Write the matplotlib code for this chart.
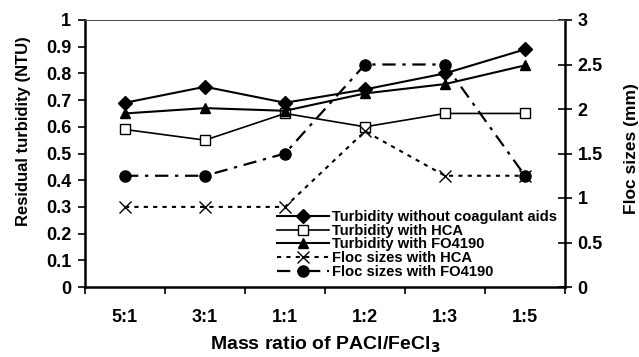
import matplotlib.pyplot as plt
import numpy as np

plt.rcParams['font.family'] = ['Liberation Sans', 'DejaVu Sans']
plt.rcParams['font.weight'] = 'bold'

ratios = ["5:1", "3:1", "1:1", "1:2", "1:3", "1:5"]
turb_none = [0.69, 0.75, 0.69, 0.74, 0.80, 0.89]
turb_hca = [0.59, 0.55, 0.65, 0.60, 0.65, 0.65]
turb_fo = [0.65, 0.67, 0.66, 0.725, 0.76, 0.83]
floc_hca = [0.9, 0.9, 0.9, 1.75, 1.25, 1.25]
floc_fo = [1.25, 1.25, 1.5, 2.5, 2.5, 1.25]

x = np.arange(len(ratios))

fig = plt.figure(figsize=(6.39, 3.57), dpi=100)
ax = fig.add_axes([85/639, 70/357, 480/639, 267/357])
ax2 = ax.twinx()

h1, = ax.plot(x, turb_none, color="black", lw=1.5, marker="D", ms=7,
              label="Turbidity without coagulant aids")
h2, = ax.plot(x, turb_hca, color="black", lw=1.2, marker="s", ms=7.5, mfc="white",
              mew=1, label="Turbidity with HCA")
h3, = ax.plot(x, turb_fo, color="black", lw=1.5, marker="^", ms=7.5,
              label="Turbidity with FO4190")
h4, = ax2.plot(x, floc_hca, color="black", lw=1.5, ls=(0, (2, 2.5)), marker="x",
               ms=9, mew=1, label="Floc sizes with HCA")
h5, = ax2.plot(x, floc_fo, color="black", lw=1.6, ls=(0, (6, 3, 1.5, 3)), marker="o",
               ms=8, label="Floc sizes with FO4190")

ax.set_xlim(-0.5, 5.5)
ax.set_ylim(0, 1)
ax2.set_ylim(0, 3)
ax.set_yticks(np.arange(0, 1.01, 0.1))
ax.set_yticklabels(["0", "0.1", "0.2", "0.3", "0.4", "0.5", "0.6", "0.7", "0.8", "0.9", "1"])
ax2.set_yticks(np.arange(0, 3.01, 0.5))
ax2.set_yticklabels(["0", "0.5", "1", "1.5", "2", "2.5", "3"])

ax.set_xticks(np.arange(-0.5, 5.6, 1))
ax.set_xticklabels([])
ax.set_xticks(x, minor=True)
ax.set_xticklabels(ratios, minor=True)
ax.tick_params(axis="x", which="major", direction="out", length=5, width=1.2)
ax.tick_params(axis="x", which="minor", length=0, pad=16, labelsize=13)
ax.tick_params(axis="y", direction="out", length=5, width=1.2, labelsize=13, pad=5)
ax2.tick_params(axis="y", direction="inout", length=10, width=1.2, labelsize=13, pad=4)

for s in ["left", "bottom"]:
    ax.spines[s].set_linewidth(1.8)
ax2.spines["right"].set_linewidth(1.8)
ax2.spines["top"].set_linewidth(0.8)
ax2.spines["top"].set_color("#555555")
ax.spines["top"].set_visible(False)
ax2.spines["left"].set_visible(False)
ax2.spines["bottom"].set_visible(False)
ax.spines["right"].set_visible(False)

ax.set_ylabel("Residual turbidity (NTU)", fontsize=12, fontweight="bold")
ax.yaxis.set_label_coords(-0.113, 0.585)
ax2.set_ylabel("Floc sizes (mm)", fontsize=12.5, fontweight="bold")
ax2.yaxis.set_label_coords(1.122, 0.52)
ax.set_xlabel("Mass ratio of PACl/FeCl$_\\mathbf{3}$", fontsize=14, fontweight="bold",
              labelpad=6)

leg = ax2.legend(handles=[h1, h2, h3, h4, h5], loc="lower right", frameon=False,
                 fontsize=10.6, handlelength=3.5, handletextpad=0.2,
                 labelspacing=-0.02, borderaxespad=0.15)
for t in leg.get_texts():
    t.set_fontweight("bold")

fig.savefig("out.png", dpi=100)
